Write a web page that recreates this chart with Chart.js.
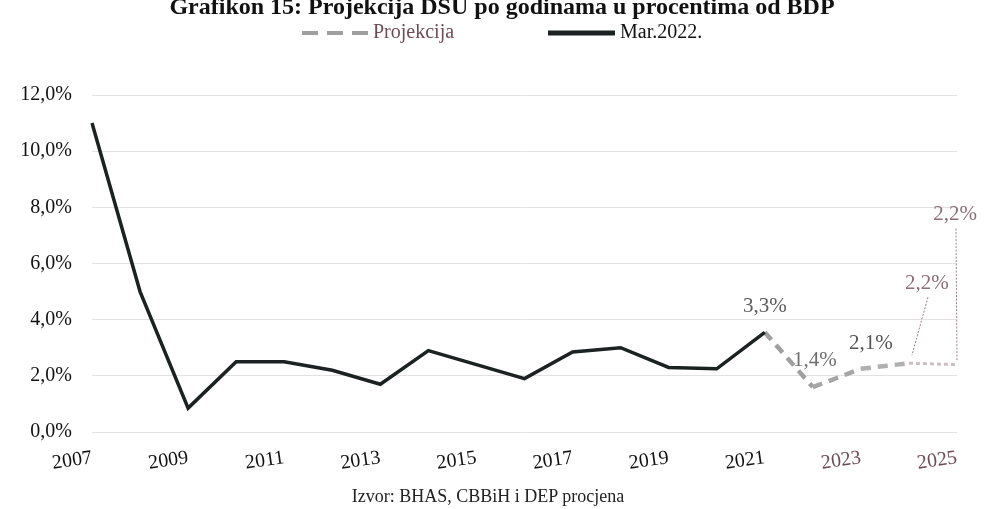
<!DOCTYPE html>
<html>
<head>
<meta charset="utf-8">
<title>Grafikon 15</title>
<script src="https://cdn.jsdelivr.net/npm/chart.js@4.4.1/dist/chart.umd.min.js"></script>
<style>
  html, body { margin: 0; padding: 0; background: #fff; }
  #wrap { position: relative; width: 984px; height: 509px; overflow: hidden; font-family: 'Liberation Serif', 'DejaVu Serif', serif; }
  #title { position: absolute; left: 10px; width: 984px; top: -6px; line-height: 24px; text-align: center; font-weight: bold; font-size: 24px; color: #111; white-space: nowrap; }
  #source { position: absolute; left: -4px; width: 984px; top: 487px; line-height: 18px; text-align: center; font-size: 18px; color: #222; white-space: nowrap; }
  #chart { position: absolute; left: 0; top: 0; }
</style>
</head>
<body>
<div id="wrap">
  <canvas id="chart" width="984" height="509"></canvas>
  <div id="title">Grafikon 15: Projekcija DSU po godinama u procentima od BDP</div>
  <div id="source">Izvor: BHAS, CBBiH i DEP procjena</div>
</div>
<script>
// Data
const years = ['2007', '2008', '2009', '2010', '2011', '2012', '2013', '2014', '2015', '2016',
  '2017', '2018', '2019', '2020', '2021', '2022', '2023', '2024', '2025'];
const actual = [11.0, 5.0, 0.85, 2.5, 2.5, 2.2, 1.7, 2.9, 2.4, 1.9,
  2.85, 3.0, 2.3, 2.25, 3.55, null, null, null, null];
const projection = [null, null, null, null, null, null, null, null, null, null,
  null, null, null, null, 3.55, 1.6, 2.25, 2.45, 2.4];
const projectionLabels = ['3,3%', '1,4%', '2,1%', '2,2%', '2,2%'];
const yTicks = [0, 2, 4, 6, 8, 10, 12];

const FONT = "'Liberation Serif', 'DejaVu Serif', serif";

// Label styling (offsets from each projection point)
const labelOffsets = [[0, -26], [2, -27], [10, -25], [18, -80], [-2, -150]];
const labelColors = ['#5c5c5c', '#6f6f6f', '#545454', '#8b6f79', '#8b6f79'];
const leaders = [null, null, null, [19, -66, 3, -8], [-1, -136, 0, -3]];

const segColors = ['#a0a0a0', '#a6a6a6', '#b0b0b0', '#cdbfc4'];

// Projection data labels
const dataLabels = {
  id: 'dataLabels',
  afterDatasetsDraw(chart) {
    const ctx = chart.ctx;
    const meta = chart.getDatasetMeta(1);
    const first = projection.findIndex(v => v !== null);
    ctx.save();
    ctx.font = '21px ' + FONT;
    ctx.textAlign = 'center';
    ctx.textBaseline = 'middle';
    projectionLabels.forEach((txt, k) => {
      const pt = meta.data[first + k];
      const [dx, dy] = labelOffsets[k];
      const ld = leaders[k];
      if (ld) {
        ctx.strokeStyle = '#9a8088';
        ctx.lineWidth = 1;
        ctx.setLineDash([2, 1.5]);
        ctx.beginPath();
        ctx.moveTo(pt.x + ld[0], pt.y + ld[1]);
        ctx.lineTo(pt.x + ld[2], pt.y + ld[3]);
        ctx.stroke();
        ctx.setLineDash([]);
      }
      ctx.fillStyle = labelColors[k];
      ctx.fillText(txt, pt.x + dx, pt.y + dy);
    });
    ctx.restore();
  }
};

// Legend drawn by hand so the spacing matches the reference
const manualLegend = {
  id: 'manualLegend',
  afterDraw(chart) {
    const ctx = chart.ctx;
    const y = 33;
    const items = [
      { ds: chart.data.datasets[1], x: 302, w: 66, dash: [16, 9], color: '#6b4c58' },
      { ds: chart.data.datasets[0], x: 548, w: 67, dash: [], color: '#111' }
    ];
    ctx.save();
    ctx.font = '20px ' + FONT;
    ctx.textBaseline = 'middle';
    items.forEach(it => {
      ctx.strokeStyle = it.ds.borderColor;
      ctx.lineWidth = it.ds === chart.data.datasets[0] ? 5 : 4;
      ctx.setLineDash(it.dash);
      ctx.beginPath();
      ctx.moveTo(it.x, y);
      ctx.lineTo(it.x + it.w, y);
      ctx.stroke();
      ctx.setLineDash([]);
      ctx.fillStyle = it.color;
      ctx.fillText(it.ds.label, it.x + it.w + 5, y);
    });
    ctx.restore();
  }
};

new Chart(document.getElementById('chart'), {
  type: 'line',
  data: {
    labels: years,
    datasets: [
      {
        label: 'Mar.2022.',
        data: actual,
        borderColor: '#1c2222',
        borderWidth: 3.5,
        pointRadius: 0,
        tension: 0,
        spanGaps: false
      },
      {
        label: 'Projekcija',
        data: projection,
        borderColor: '#a0a0a0',
        borderWidth: 4.5,
        borderDash: [10, 7],
        pointRadius: 0,
        tension: 0,
        segment: {
          borderColor: c => segColors[c.p0DataIndex - 14] || '#a0a0a0',
          borderDash: c => c.p0DataIndex === 17 ? [4, 3] : [10, 7],
          borderWidth: c => c.p0DataIndex === 17 ? 3 : 4.5
        }
      }
    ]
  },
  options: {
    responsive: false,
    animation: false,
    layout: { padding: { top: 95, right: 27, left: 0, bottom: 0 } },
    plugins: {
      legend: { display: false },
      title: { display: false },
      tooltip: { enabled: false }
    },
    scales: {
      x: {
        offset: false,
        grid: { display: false },
        border: { display: false },
        afterFit: s => { s.height = 77; },
        ticks: {
          autoSkip: false,
          minRotation: 8,
          maxRotation: 8,
          padding: 6,
          font: { family: FONT, size: 20 },
          color: c => (c.index >= 16 ? '#6b4c55' : '#111'),
          callback: (v, i) => (i % 2 === 0 ? years[i] : '')
        }
      },
      y: {
        min: 0,
        max: 12,
        afterFit: s => { s.width = 92; },
        afterBuildTicks: s => { s.ticks = yTicks.map(v => ({ value: v })); },
        grid: { color: '#e2e2e2', lineWidth: 1, drawTicks: false },
        border: { display: false },
        ticks: {
          padding: 20,
          font: { family: FONT, size: 20 },
          color: '#111',
          callback: v => v.toFixed(1).replace('.', ',') + '%'
        }
      }
    }
  },
  plugins: [dataLabels, manualLegend]
});
</script>
</body>
</html>
